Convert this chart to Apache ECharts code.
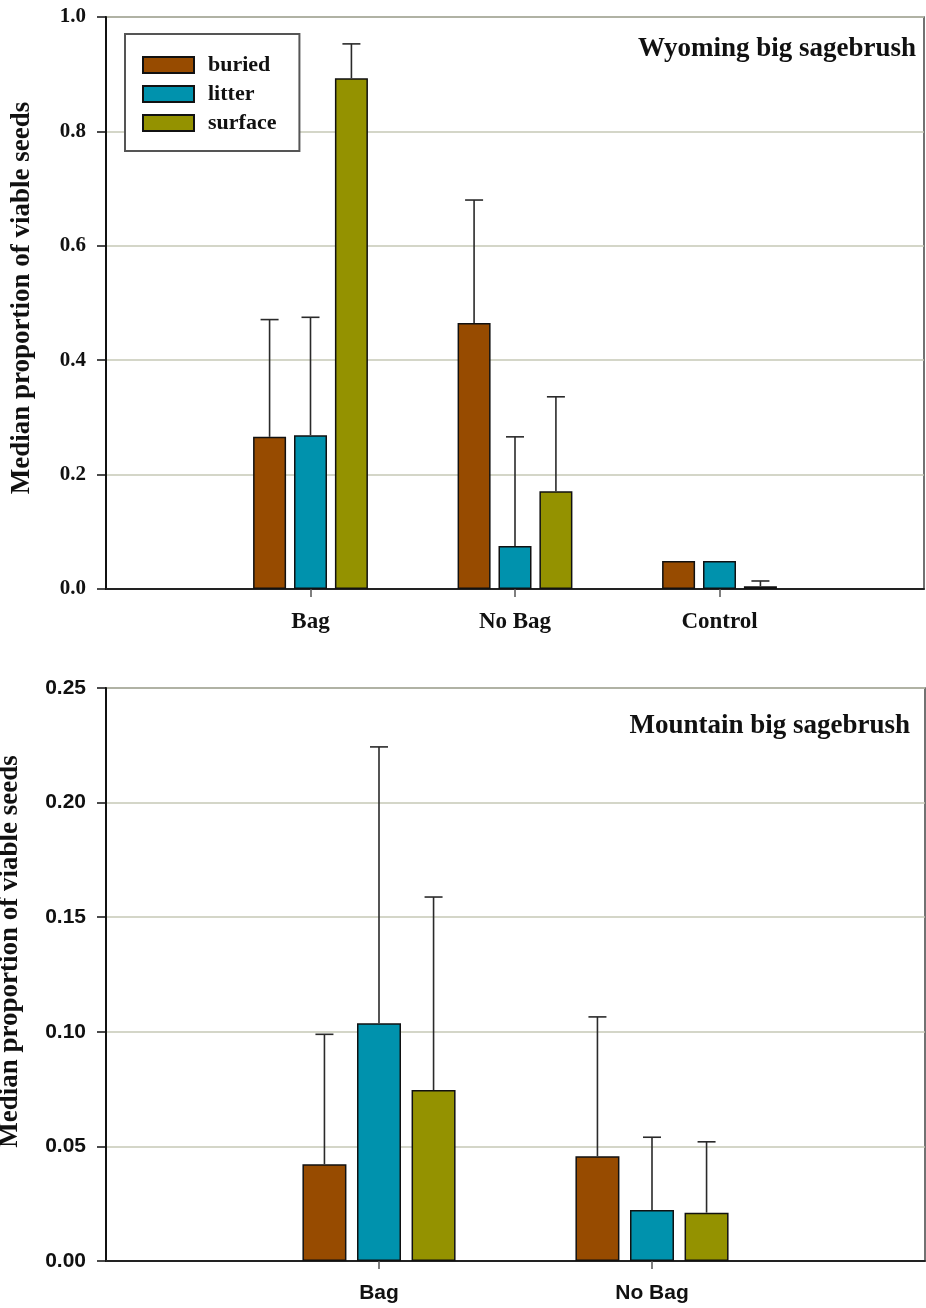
<!DOCTYPE html>
<html>
<head>
<meta charset="utf-8">
<title>Median proportion of viable seeds</title>
<script src="https://cdn.jsdelivr.net/npm/echarts@6.0.0/dist/echarts.min.js"></script>
<style>
    html, body { margin: 0; padding: 0; background: #fff; }
    #chart { width: 926px; height: 1308px; }
</style>
</head>
<body>
<div id="chart"></div>
<script>
    // 上图 Wyoming big sagebrush
    const wyCategories = ['Bag', 'No Bag', 'Control']
    const wyBuried = [0.266, 0.465, 0.049]
    const wyBuriedErr = [0.471, 0.680, null]
    const wyLitter = [0.269, 0.075, 0.049]
    const wyLitterErr = [0.475, 0.266, null]
    const wySurface = [0.893, 0.171, 0.005]
    const wySurfaceErr = [0.953, 0.336, 0.014]
    const wyTicks = [0, 0.2, 0.4, 0.6, 0.8, 1.0]

    // 下图 Mountain big sagebrush
    const mtCategories = ['Bag', 'No Bag']
    const mtBuried = [0.0422, 0.0457]
    const mtBuriedErr = [0.0989, 0.1065]
    const mtLitter = [0.1037, 0.0223]
    const mtLitterErr = [0.2243, 0.054]
    const mtSurface = [0.0746, 0.0211]
    const mtSurfaceErr = [0.1588, 0.052]
    const mtTicks = [0, 0.05, 0.10, 0.15, 0.20, 0.25]

    const seriesNames = ['buried', 'litter', 'surface']
    const colors = ['#974b00', '#0092ad', '#949200']

    const serif = "'Liberation Serif', 'Times New Roman', serif"
    const sans = "'Liberation Sans', Arial, sans-serif"

    // 两端各补一个空类目，让组落在 1/4、1/2、3/4 处
    const pad = cats => [''].concat(cats, [' '])
    const padVals = vals => [null].concat(vals, [null])

    function errorBar(offset, capHalf) {
        return function (params, api) {
            const i = api.value(0)
            const mid = api.value(1)
            const hi = api.value(2)
            const p0 = api.coord([i, mid])
            const p1 = api.coord([i, hi])
            const x = p0[0] + offset
            const style = { stroke: '#2a2a2a', lineWidth: 1.6 }
            return {
                type: 'group',
                children: [
                    { type: 'line', shape: { x1: x, y1: p0[1], x2: x, y2: p1[1] }, style: style },
                    { type: 'line', shape: { x1: x - capHalf, y1: p1[1], x2: x + capHalf, y2: p1[1] }, style: style }
                ]
            }
        }
    }

    function panelSeries(idx, sets, barWidth, gapPct) {
        const pitch = barWidth * (1 + gapPct / 100)
        const out = []
        sets.forEach((s, k) => {
            out.push({
                name: seriesNames[k],
                type: 'bar',
                xAxisIndex: idx,
                yAxisIndex: idx,
                barWidth: barWidth,
                barGap: gapPct + '%',
                itemStyle: { color: colors[k], borderColor: '#111', borderWidth: 1.5 },
                data: padVals(s.vals)
            })
            const errData = []
            s.err.forEach((e, j) => {
                if (e != null) errData.push([j + 1, s.vals[j], e])
            })
            out.push({
                type: 'custom',
                xAxisIndex: idx,
                yAxisIndex: idx,
                z: 5,
                silent: true,
                encode: { x: 0, y: [1, 2] },
                renderItem: errorBar((k - 1) * pitch, 9),
                data: errData
            })
        })
        return out
    }

    function xAxis(idx, cats, font, size) {
        return {
            type: 'category',
            gridIndex: idx,
            boundaryGap: false,
            data: pad(cats),
            axisLine: { lineStyle: { color: '#222', width: 1.8 } },
            axisTick: {
                length: 8,
                interval: (i, v) => v.trim() !== '',
                lineStyle: { color: '#555', width: 1.5 }
            },
            axisLabel: {
                interval: 0,
                margin: 22,
                fontFamily: font,
                fontWeight: 'bold',
                fontSize: size,
                color: '#111'
            },
            splitLine: { show: false }
        }
    }

    function yAxis(idx, ticks, digits, font, labelSize, nameGap, namePad) {
        return {
            type: 'value',
            gridIndex: idx,
            min: ticks[0],
            max: ticks[ticks.length - 1],
            interval: ticks[1] - ticks[0],
            name: 'Median proportion of viable seeds',
            nameLocation: 'middle',
            nameGap: nameGap,
            nameTextStyle: {
                fontFamily: serif,
                fontWeight: 'bold',
                fontSize: 27,
                color: '#111',
                padding: namePad
            },
            axisLine: { show: true, lineStyle: { color: '#111', width: 2 } },
            axisTick: { show: true, length: 9, lineStyle: { color: '#111', width: 1.5 } },
            axisLabel: {
                margin: 20,
                fontFamily: font,
                fontWeight: 'bold',
                fontSize: labelSize,
                color: '#111',
                formatter: v => v.toFixed(digits)
            },
            splitLine: { lineStyle: { color: '#c6c8b6', width: 1.5 } }
        }
    }

    const mChart = echarts.init(document.getElementById('chart'))
    const option = {
        animation: false,
        backgroundColor: '#fff',
        title: [
            {
                text: 'Wyoming big sagebrush',
                right: 10,
                top: 36,
                padding: 0,
                textStyle: { fontFamily: serif, fontWeight: 'bold', fontSize: 27, color: '#111' }
            },
            {
                text: 'Mountain big sagebrush',
                right: 16,
                top: 713,
                padding: 0,
                textStyle: { fontFamily: serif, fontWeight: 'bold', fontSize: 27, color: '#111' }
            }
        ],
        legend: {
            data: seriesNames,
            orient: 'vertical',
            left: 125,
            top: 34,
            padding: [20, 23, 17, 17],
            itemWidth: 51,
            itemHeight: 16,
            itemGap: 7,
            icon: 'rect',
            selectedMode: false,
            borderColor: '#555',
            borderWidth: 2,
            backgroundColor: '#fff',
            textStyle: {
                fontFamily: serif,
                fontWeight: 'bold',
                fontSize: 22,
                lineHeight: 16,
                color: '#111',
                padding: [0, 0, 0, 9]
            }
        },
        grid: [
            {
                left: 106, right: 2, top: 17, bottom: 719,
                containLabel: false, outerBoundsMode: 'none',
                show: true, borderColor: '#444', borderWidth: 1.5
            },
            {
                left: 106, right: 1, top: 688, bottom: 47,
                containLabel: false, outerBoundsMode: 'none',
                show: true, borderColor: '#444', borderWidth: 1.5
            }
        ],
        xAxis: [
            xAxis(0, wyCategories, serif, 23),
            xAxis(1, mtCategories, sans, 21)
        ],
        yAxis: [
            yAxis(0, wyTicks, 1, serif, 21, 70, [0, 0, 0, 10]),
            yAxis(1, mtTicks, 2, sans, 21, 82, [0, 0, 0, 46])
        ],
        series: [].concat(
            panelSeries(0, [
                { vals: wyBuried, err: wyBuriedErr },
                { vals: wyLitter, err: wyLitterErr },
                { vals: wySurface, err: wySurfaceErr }
            ], 33, 24),
            panelSeries(1, [
                { vals: mtBuried, err: mtBuriedErr },
                { vals: mtLitter, err: mtLitterErr },
                { vals: mtSurface, err: mtSurfaceErr }
            ], 44, 24)
        )
    }
    mChart.setOption(option)
    window.addEventListener('resize', function () {
        mChart.resize()
    })
</script>
</body>
</html>
